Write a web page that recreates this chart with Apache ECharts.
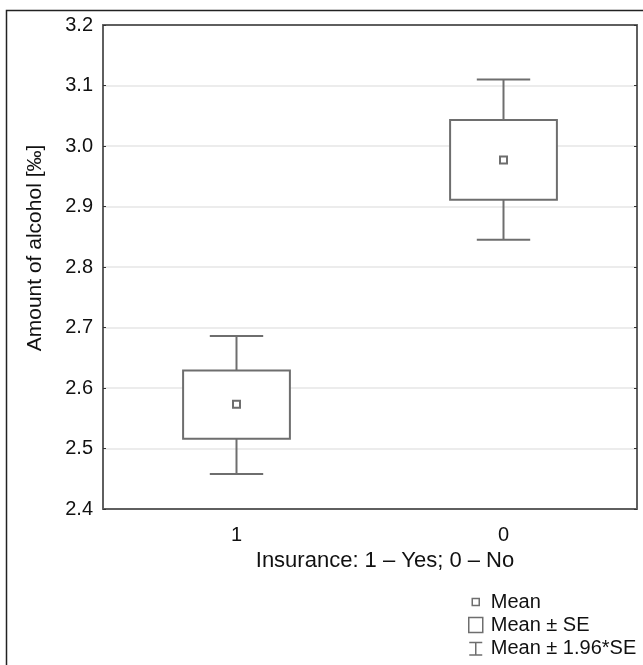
<!DOCTYPE html>
<html>
<head>
    <meta charset="utf-8">
    <title>Amount of alcohol by insurance</title>
    <style>
        html, body { margin: 0; padding: 0; background: #fff; }
        #main { width: 643px; height: 665px; }
    </style>
</head>
<body>
    <div id="main"></div>
    <script src="https://cdn.jsdelivr.net/npm/echarts@6/dist/echarts.min.js"></script>
    <script type="text/javascript">

        // categories on the x axis
        const categories = ['1', '0'];
        // values
        const means = [2.573, 2.977];
        const seLow = [2.516, 2.911];
        const seHigh = [2.629, 3.043];
        const ciLow = [2.458, 2.845];
        const ciHigh = [2.686, 3.110];
        // y axis ticks
        const yMin = 2.4;
        const yMax = 3.2;
        const yStep = 0.1;

        const FONT = "'Liberation Sans', Arial, sans-serif";
        const LINE = '#6e6e6e';
        const AXIS = '#5f5f5f';

        function renderWhisker(params, api) {
            const i = api.value(0);
            const lo = api.coord([i, api.value(1)]);
            const hi = api.coord([i, api.value(2)]);
            const half = api.size([1, 0])[0] * 0.1;
            const style = { stroke: LINE, lineWidth: 2, fill: null };
            return {
                type: 'group',
                children: [
                    { type: 'line', shape: { x1: hi[0], y1: hi[1], x2: lo[0], y2: lo[1] }, style: style },
                    { type: 'line', shape: { x1: hi[0] - half, y1: hi[1], x2: hi[0] + half, y2: hi[1] }, style: style },
                    { type: 'line', shape: { x1: lo[0] - half, y1: lo[1], x2: lo[0] + half, y2: lo[1] }, style: style }
                ]
            };
        }

        function renderBox(params, api) {
            const i = api.value(0);
            const lo = api.coord([i, api.value(1)]);
            const hi = api.coord([i, api.value(2)]);
            const w = api.size([1, 0])[0] * 0.4;
            return {
                type: 'rect',
                shape: { x: hi[0] - w / 2, y: hi[1], width: w, height: lo[1] - hi[1] },
                style: { fill: '#fff', stroke: LINE, lineWidth: 2 }
            };
        }

        function renderMean(params, api) {
            const p = api.coord([api.value(0), api.value(1)]);
            const s = 7;
            return {
                type: 'rect',
                shape: { x: p[0] - s / 2, y: p[1] - s / 2, width: s, height: s },
                style: { fill: '#fff', stroke: LINE, lineWidth: 2 }
            };
        }

        const legendStyle = { color: '#fff', borderColor: LINE, borderWidth: 1.5 };

        let myChart = echarts.init(document.getElementById('main'));

        const option = {
            animation: false,
            backgroundColor: '#fff',
            textStyle: { fontFamily: FONT },
            grid: { left: 103, right: 6, top: 25, bottom: 156 },
            graphic: [{
                type: 'rect',
                silent: true,
                shape: { x: 6.5, y: 10.5, width: 700, height: 700 },
                style: { fill: null, stroke: '#222', lineWidth: 1.5 }
            }],
            legend: {
                orient: 'vertical',
                left: 468,
                top: 592,
                padding: 0,
                height: 73,
                itemWidth: 14,
                itemHeight: 15,
                itemGap: 3,
                selectedMode: false,
                textStyle: { fontFamily: FONT, fontSize: 20, color: '#111', lineHeight: 20, padding: [0, 0, 0, 3] },
                data: [
                    { name: 'Mean', icon: 'path://M0,0 M14,15 M3.5,4 h7 v7 h-7 z', itemStyle: legendStyle },
                    { name: 'Mean ± SE', icon: 'path://M0,0 h14 v15 h-14 z', itemStyle: legendStyle },
                    { name: 'Mean ± 1.96*SE', icon: 'path://M0,0 M14,15 M0.5,2 H13.5 M7,2 V14.5 M0.5,14.5 H13.5', itemStyle: legendStyle }
                ]
            },
            xAxis: [{
                type: 'category',
                data: categories,
                name: 'Insurance: 1 – Yes; 0 – No',
                nameLocation: 'middle',
                nameGap: 41,
                nameTextStyle: { fontSize: 22, color: '#111', padding: [0, 0, 0, 30] },
                axisLine: { lineStyle: { color: AXIS, width: 2 } },
                axisTick: { inside: true, alignWithLabel: true, length: 3, lineStyle: { color: '#333' } },
                axisLabel: { fontSize: 20, color: '#111', margin: 16 },
                splitLine: { show: false }
            }, {
                type: 'category',
                data: categories,
                position: 'top',
                axisLine: { lineStyle: { color: AXIS, width: 2 } },
                axisTick: { inside: true, alignWithLabel: true, length: 3, lineStyle: { color: '#333' } },
                axisLabel: { show: false },
                splitLine: { show: false }
            }],
            yAxis: [{
                type: 'value',
                min: yMin,
                max: yMax,
                interval: yStep,
                name: 'Amount of alcohol [‰]',
                nameLocation: 'middle',
                nameGap: 57,
                nameTextStyle: { fontSize: 21, color: '#111', padding: [0, 0, 0, 38] },
                axisLine: { show: true, lineStyle: { color: AXIS, width: 2 } },
                axisTick: { show: true, inside: true, length: 3, lineStyle: { color: '#333' } },
                axisLabel: { fontSize: 20, color: '#111', margin: 10, formatter: v => v.toFixed(1) },
                splitLine: { show: true, lineStyle: { color: '#e6e6e6', width: 1.5 } }
            }, {
                type: 'value',
                min: yMin,
                max: yMax,
                interval: yStep,
                position: 'right',
                axisLine: { show: true, lineStyle: { color: AXIS, width: 2 } },
                axisTick: { show: true, inside: true, length: 3, lineStyle: { color: '#333' } },
                axisLabel: { show: false },
                splitLine: { show: false }
            }],
            series: [{
                type: 'custom',
                name: 'Mean ± 1.96*SE',
                renderItem: renderWhisker,
                encode: { x: 0, y: [1, 2] },
                itemStyle: legendStyle,
                silent: true,
                data: categories.map((c, i) => [i, ciLow[i], ciHigh[i]]),
                z: 2
            }, {
                type: 'custom',
                name: 'Mean ± SE',
                renderItem: renderBox,
                encode: { x: 0, y: [1, 2] },
                itemStyle: legendStyle,
                silent: true,
                data: categories.map((c, i) => [i, seLow[i], seHigh[i]]),
                z: 3
            }, {
                type: 'custom',
                name: 'Mean',
                renderItem: renderMean,
                encode: { x: 0, y: 1 },
                itemStyle: legendStyle,
                silent: true,
                data: categories.map((c, i) => [i, means[i]]),
                z: 4
            }]
        };

        myChart.setOption(option);

    </script>
</body>
</html>
